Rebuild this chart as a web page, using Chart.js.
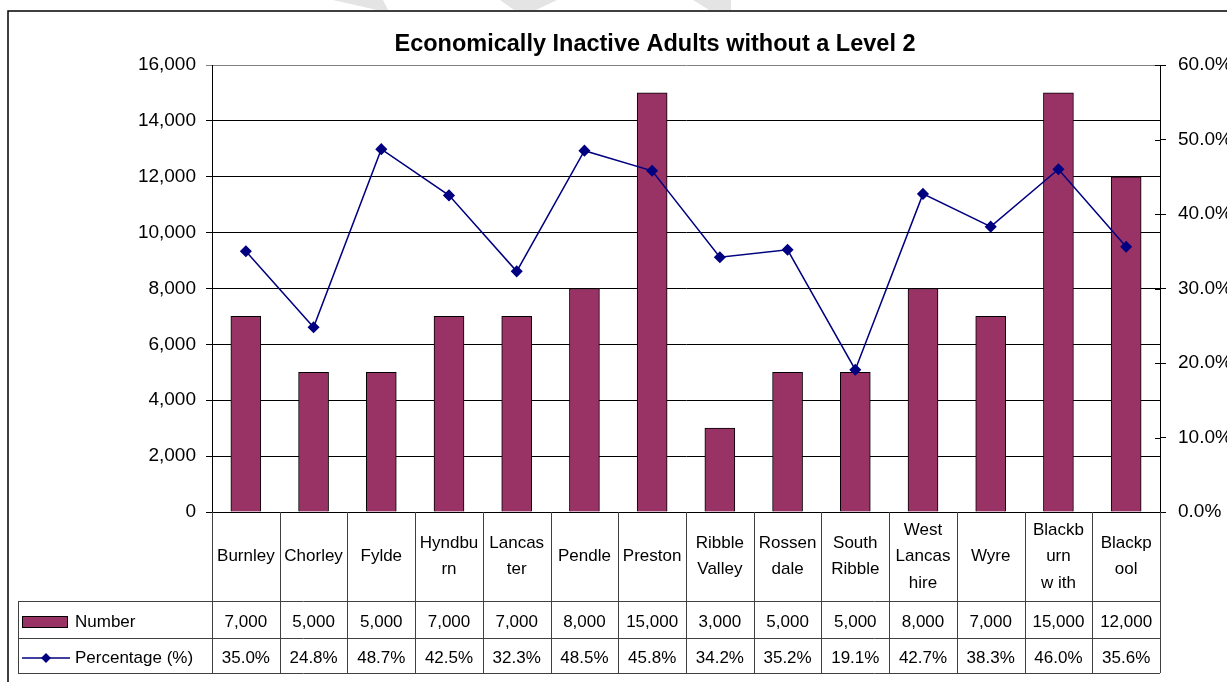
<!DOCTYPE html>
<html>
<head>
<meta charset="utf-8">
<style>
	body { margin: 0; background: #fff; }
	canvas { display: block; }
</style>
<script src="https://cdn.jsdelivr.net/npm/chart.js@4"></script>
</head>
<body>
<canvas id="inactive-canvas" width="1227" height="682"></canvas>
<script>
// data
const categories = [
	['Burnley'], ['Chorley'], ['Fylde'], ['Hyndbu', 'rn'], ['Lancas', 'ter'], ['Pendle'], ['Preston'],
	['Ribble', 'Valley'], ['Rossen', 'dale'], ['South', 'Ribble'], ['West', 'Lancas', 'hire'], ['Wyre'],
	['Blackb', 'urn', 'w ith'], ['Blackp', 'ool']
];
const numbers = [7000, 5000, 5000, 7000, 7000, 8000, 15000, 3000, 5000, 5000, 8000, 7000, 15000, 12000];
const percentages = [35.0, 24.8, 48.7, 42.5, 32.3, 48.5, 45.8, 34.2, 35.2, 19.1, 42.7, 38.3, 46.0, 35.6];
const seriesNames = ['Number', 'Percentage (%)'];
const chartTitle = 'Economically Inactive Adults without a Level 2';

const BAR_COLOR = '#993366';
const LINE_COLOR = '#000080';
const FONT = '"Liberation Sans", Arial, sans-serif';

// Chart frame, title and the data table under the plot
(function () {
	const tableRows = { catBottom: 601, numBottom: 638, pctBottom: 673, left: 18 };

	function drawFrame (ctx) {
		ctx.save();
		ctx.fillStyle = '#e4e4e4';
		[
			[[333, 0], [383, 0], [388, 10], [377, 10]],
			[[500, 0], [557, 0], [536, 10], [514, 10]],
			[[693, 0], [731, 0], [731, 10], [709, 10]]
		].forEach(poly => {
			ctx.beginPath();
			poly.forEach((p, i) => i == 0 ? ctx.moveTo(p[0], p[1]) : ctx.lineTo(p[0], p[1]));
			ctx.closePath();
			ctx.fill();
		});
		ctx.strokeStyle = '#000';
		ctx.lineWidth = 1.5;
		ctx.beginPath();
		ctx.moveTo(8, 682);
		ctx.lineTo(8, 11);
		ctx.lineTo(1227, 11);
		ctx.stroke();
		ctx.restore();
	}

	function line (ctx, x1, y1, x2, y2) {
		ctx.beginPath();
		ctx.moveTo(x1, y1);
		ctx.lineTo(x2, y2);
		ctx.stroke();
	}

	function drawTable (chart) {
		const ctx = chart.ctx;
		const x = chart.scales.x;
		const y1 = chart.scales.y1;
		const area = chart.chartArea;
		const step = (area.right - area.left) / categories.length;

		ctx.save();

		// title
		ctx.fillStyle = '#000';
		ctx.font = 'bold 23.5px ' + FONT;
		ctx.textAlign = 'center';
		ctx.textBaseline = 'middle';
		ctx.fillText(chartTitle, 655, 45);

		// inner half of the right axis ticks
		ctx.strokeStyle = '#000';
		ctx.lineWidth = 1;
		y1.ticks.forEach(t => {
			const py = Math.round(y1.getPixelForValue(t.value)) + 0.5;
			line(ctx, area.right - 5, py, area.right, py);
		});

		// table grid
		ctx.strokeStyle = '#404040';
		for (let k = 0; k <= categories.length; k++) {
			const px = Math.round(area.left + k * step) + 0.5;
			line(ctx, px, area.bottom, px, tableRows.pctBottom);
		}
		line(ctx, tableRows.left + 0.5, tableRows.catBottom, tableRows.left + 0.5, tableRows.pctBottom);
		[tableRows.catBottom, tableRows.numBottom, tableRows.pctBottom].forEach(r => {
			line(ctx, tableRows.left, r + 0.5, area.right, r + 0.5);
		});

		// category names and values
		ctx.fillStyle = '#000';
		ctx.font = '17px ' + FONT;
		ctx.textAlign = 'center';
		const catMid = (area.bottom + tableRows.catBottom) / 2;
		const numMid = (tableRows.catBottom + tableRows.numBottom) / 2 + 2.5;
		const pctMid = (tableRows.numBottom + tableRows.pctBottom) / 2 + 2.5;
		categories.forEach((lines, i) => {
			const cx = x.getPixelForValue(i);
			lines.forEach((txt, j) => {
				ctx.fillText(txt, cx, catMid + (j - (lines.length - 1) / 2) * 26.5);
			});
			ctx.fillText(numbers[i].toLocaleString('en-US'), cx, numMid);
			ctx.fillText(percentages[i].toFixed(1) + '%', cx, pctMid);
		});

		// legend keys in the first column
		ctx.fillStyle = BAR_COLOR;
		ctx.strokeStyle = '#000';
		ctx.fillRect(22, numMid - 6, 46, 12);
		ctx.strokeRect(22.5, numMid - 5.5, 45, 11);
		ctx.strokeStyle = LINE_COLOR;
		ctx.lineWidth = 1.5;
		line(ctx, 22, pctMid, 70, pctMid);
		ctx.fillStyle = LINE_COLOR;
		ctx.beginPath();
		ctx.moveTo(46, pctMid - 5);
		ctx.lineTo(51, pctMid);
		ctx.lineTo(46, pctMid + 5);
		ctx.lineTo(41, pctMid);
		ctx.closePath();
		ctx.fill();

		ctx.fillStyle = '#000';
		ctx.textAlign = 'left';
		ctx.fillText(seriesNames[0], 75, numMid);
		ctx.fillText(seriesNames[1], 75, pctMid);
		ctx.restore();
	}

	const framePlugin = {
		id: 'framePlugin',
		beforeDraw: chart => drawFrame(chart.ctx),
		afterDraw: chart => drawTable(chart)
	};

	const ctx = document.getElementById('inactive-canvas');
	new Chart(ctx, {
		data: {
			labels: categories.map(c => c.join('')),
			datasets: [{
				type: 'line',
				label: seriesNames[1],
				data: percentages,
				yAxisID: 'y1',
				borderColor: LINE_COLOR,
				borderWidth: 1.5,
				backgroundColor: LINE_COLOR,
				pointStyle: 'rectRot',
				pointRadius: 5,
				pointHoverRadius: 5,
				tension: 0,
				order: 0
			}, {
				type: 'bar',
				label: seriesNames[0],
				data: numbers,
				yAxisID: 'y',
				backgroundColor: BAR_COLOR,
				borderColor: '#000',
				borderWidth: 1,
				barThickness: 30,
				order: 1
			}]
		},
		options: {
			responsive: false,
			animation: false,
			layout: { padding: { top: 65, bottom: 170, left: 0, right: 0 } },
			plugins: {
				legend: { display: false },
				title: { display: false },
				tooltip: { enabled: false }
			},
			scales: {
				x: {
					type: 'category',
					display: false,
					offset: true
				},
				y: {
					position: 'left',
					min: 0,
					max: 16000,
					afterFit: scale => { scale.width = 212; },
					ticks: {
						stepSize: 2000,
						color: '#000',
						padding: 10,
						font: { family: FONT, size: 19 },
						callback: v => v.toLocaleString('en-US')
					},
					grid: {
						color: c => c.tick && c.tick.value == 16000 ? '#808080' : '#000',
						lineWidth: 1,
						tickLength: 6
					},
					border: { color: '#000', width: 1 }
				},
				y1: {
					position: 'right',
					min: 0,
					max: 60,
					afterFit: scale => { scale.width = 67; },
					ticks: {
						stepSize: 10,
						color: '#000',
						padding: 12,
						font: { family: FONT, size: 19 },
						callback: v => v.toFixed(1) + '%'
					},
					grid: { drawOnChartArea: false, color: '#000', tickLength: 6 },
					border: { color: '#000', width: 1 }
				}
			}
		},
		plugins: [framePlugin]
	});
})();
</script>
</body>
</html>
